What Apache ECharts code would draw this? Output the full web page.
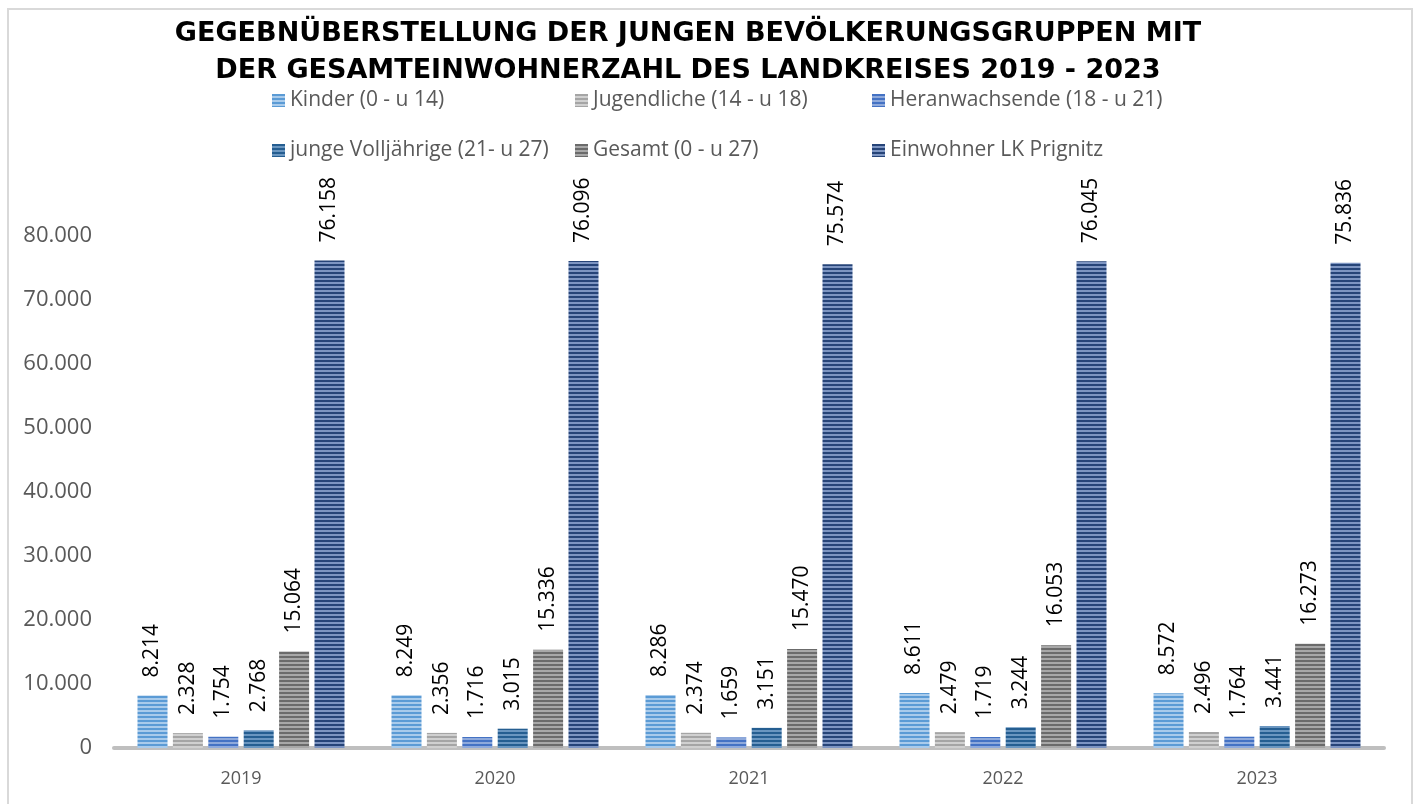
<!DOCTYPE html>
<html>
<head>
<meta charset="utf-8">
<script src="https://cdn.jsdelivr.net/npm/echarts@6/dist/echarts.min.js"></script>
<style>
html,body{margin:0;padding:0;background:#fff;}
#chart{width:1419px;height:804px;}
</style>
</head>
<body>
<div id="chart"></div>
<script>
const categories = ['2019', '2020', '2021', '2022', '2023'];
const seriesNames = ['Kinder (0 - u 14)', 'Jugendliche (14 - u 18)', 'Heranwachsende (18 - u 21)', 'junge Volljährige (21- u 27)', 'Gesamt (0 - u 27)', 'Einwohner LK Prignitz'];
const kinder = [8214, 8249, 8286, 8611, 8572];
const jugendliche = [2328, 2356, 2374, 2479, 2496];
const heranwachsende = [1754, 1716, 1659, 1719, 1764];
const jungeVolljaehrige = [2768, 3015, 3151, 3244, 3441];
const gesamt = [15064, 15336, 15470, 16053, 16273];
const einwohner = [76158, 76096, 75574, 76045, 75836];
const yTicks = [0, 10000, 20000, 30000, 40000, 50000, 60000, 70000, 80000];

const values = [kinder, jugendliche, heranwachsende, jungeVolljaehrige, gesamt, einwohner];
const palette = [
  ['#5B9BD5', '#A9CBEB'],
  ['#A5A5A5', '#D0D0D0'],
  ['#4472C4', '#8EA9DB'],
  ['#255E91', '#6A96C0'],
  ['#6B6B6B', '#A8A8A8'],
  ['#264478', '#7D95C2']
];
function stripe(c) {
  const cv = document.createElement('canvas');
  cv.width = 4; cv.height = 4;
  const ctx = cv.getContext('2d');
  ctx.fillStyle = c[1]; ctx.fillRect(0, 0, 4, 4);
  ctx.fillStyle = c[0]; ctx.fillRect(0, 0, 4, 2);
  return { image: cv, repeat: 'repeat' };
}
const fmt = v => String(v).replace(/\B(?=(\d{3})+(?!\d))/g, '.');

const chart = echarts.init(document.getElementById('chart'), null, { renderer: 'canvas' });

const legendPos = [[272, 90], [575, 90], [872, 90], [272, 140], [575, 140], [872, 140]];
const legends = seriesNames.map((n, i) => ({
  data: [n],
  left: legendPos[i][0], top: legendPos[i][1],
  icon: 'rect', itemWidth: 13, itemHeight: 13, itemGap: 5,
  padding: 0,
  textStyle: { fontFamily: 'Open Sans', fontSize: 21, color: '#595959', padding: [0, 0, 0, 0] },
  selectedMode: false
}));

const series = seriesNames.map((n, i) => ({
  name: n,
  type: 'bar',
  data: values[i],
  barWidth: 30,
  barGap: '18%',
  barCategoryGap: '18%',
  itemStyle: { color: stripe(palette[i]) },
  label: {
    show: true, position: 'top', rotate: 90, align: 'left', verticalAlign: 'middle',
    distance: 18, fontFamily: 'Open Sans', fontSize: 21, color: '#000',
    formatter: p => fmt(p.value)
  }
}));

chart.setOption({
  animation: false,
  backgroundColor: '#fff',
  title: {
    text: 'GEGEBNÜBERSTELLUNG DER JUNGEN BEVÖLKERUNGSGRUPPEN MIT\nDER GESAMTEINWOHNERZAHL DES LANDKREISES 2019 - 2023',
    left: 683, top: 10, textAlign: 'center',
    textStyle: { fontFamily: 'DejaVu Sans', fontWeight: 'bold', fontSize: 27, lineHeight: 37, color: '#000' }
  },
  legend: legends,
  grid: { left: 114, right: 35, top: 236, bottom: 56, containLabel: false },
  xAxis: {
    type: 'category', data: categories,
    axisTick: { show: false },
    axisLine: { lineStyle: { color: '#BFBFBF', width: 4 } },
    axisLabel: { fontFamily: 'Open Sans', fontSize: 18, color: '#595959', margin: 22 }
  },
  yAxis: {
    type: 'value', min: 0, max: yTicks[yTicks.length - 1], interval: yTicks[1] - yTicks[0],
    splitLine: { show: false },
    axisLine: { show: false }, axisTick: { show: false },
    axisLabel: { fontFamily: 'Open Sans', fontSize: 22, color: '#595959', margin: 22, formatter: v => fmt(v) }
  },
  graphic: [{
    type: 'rect', silent: true, z: -1,
    shape: { x: 8, y: 9, width: 1404, height: 820 },
    style: { fill: 'none', stroke: '#D9D9D9', lineWidth: 2 }
  }],
  series: series
});
</script>
</body>
</html>
